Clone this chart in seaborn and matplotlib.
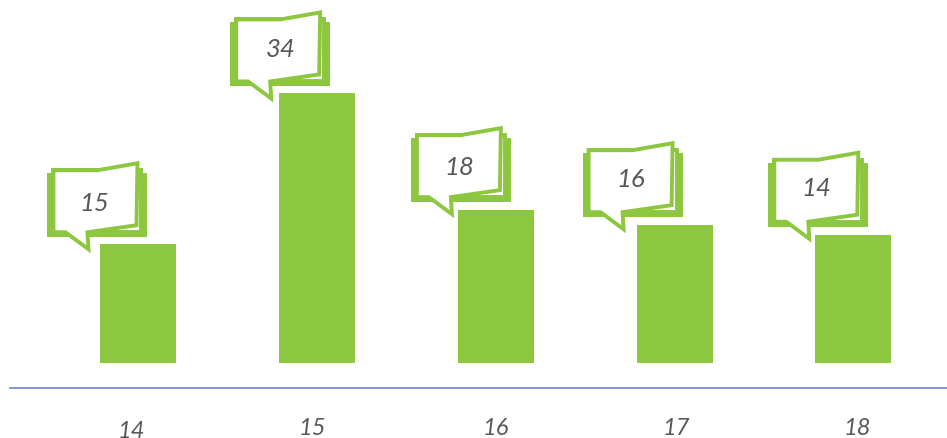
import matplotlib
matplotlib.use("Agg")
from matplotlib import pyplot as plt
from matplotlib.patches import Polygon
from matplotlib.transforms import Affine2D, ScaledTranslation
import pandas as pd
import seaborn as sns

categories = ["14", "15", "16", "17", "18"]
bar_heights = [15.0, 34.0, 19.3, 17.4, 16.2]
callout_labels = ["15", "34", "18", "16", "14"]

GREEN = "#8dc63f"
TEXT = "#595959"
DPI = 100

# callout shape in pixels, origin = bottom left of the back page, y up
BACK = [(0, 0), (100, 0), (100, 64), (0, 64)]
MIDDLE = [(6, 5), (94, 5), (94, 67), (6, 67)]
FRONT = [(6, 5), (18, 5), (41, -12), (40, 5), (89, 12), (90, 74), (50, 67), (6, 67)]
# callout origin relative to the top left corner of its bar
callout_dx = [-53, -49, -47, -54, -47]
callout_dy = [7, 7, 8, 8, 8]
text_dx = [47, 51, 48, 48, 48]
text_dy = [35, 38, 36, 39, 39]
tick_dx = [-7, -5, 0, 2, 4]
tick_dy = [-3, 0, 0, 0, 0]

sns.set_theme(style="white")
plt.rcParams["font.family"] = ["Lato", "DejaVu Sans"]

df = pd.DataFrame({"category": categories, "height": bar_heights})

fig = plt.figure(figsize=(9.47, 4.39), dpi=DPI)
ax = fig.add_axes([9.5 / 947, (439 - 388.5) / 439, 937.5 / 947, 388.5 / 439])

sns.barplot(data=df, x="category", y="height", color=GREEN, saturation=1,
            width=0.425, linewidth=0, ax=ax)

ax.set_xlim(-0.7215, 4.5245)
ax.set_ylim(-3.05, 45.9)
ax.set_xlabel("")
ax.set_ylabel("")
ax.set_yticks([])
for side in ["top", "left", "right"]:
    ax.spines[side].set_visible(False)
ax.spines["bottom"].set_color("#6f7fd6")
ax.spines["bottom"].set_linewidth(1.2)

ax.tick_params(axis="x", length=0, pad=21, labelsize=17, labelcolor=TEXT)
for lab, dx, dy in zip(ax.get_xticklabels(), tick_dx, tick_dy):
    lab.set_fontstyle("italic")
    lab.set_transform(lab.get_transform() + ScaledTranslation(dx / DPI, dy / DPI, fig.dpi_scale_trans))

fig.canvas.draw()
for i, bar in enumerate(ax.patches[:len(categories)]):
    px, py = ax.transData.transform((bar.get_x(), bar.get_height()))
    trans = Affine2D().translate(px + callout_dx[i], py + callout_dy[i])
    ax.add_patch(Polygon(BACK, closed=True, fc=GREEN, ec="none", transform=trans, clip_on=False))
    ax.add_patch(Polygon(MIDDLE, closed=True, fc="white", ec=GREEN, lw=2.8, transform=trans, clip_on=False))
    ax.add_patch(Polygon(FRONT, closed=True, fc="white", ec=GREEN, lw=2.8, joinstyle="miter",
                         transform=trans, clip_on=False))
    ax.text(text_dx[i], text_dy[i], callout_labels[i], transform=trans, ha="center", va="center",
            fontsize=18.5, fontstyle="italic", color=TEXT)

fig.savefig("out.png", dpi=DPI)
